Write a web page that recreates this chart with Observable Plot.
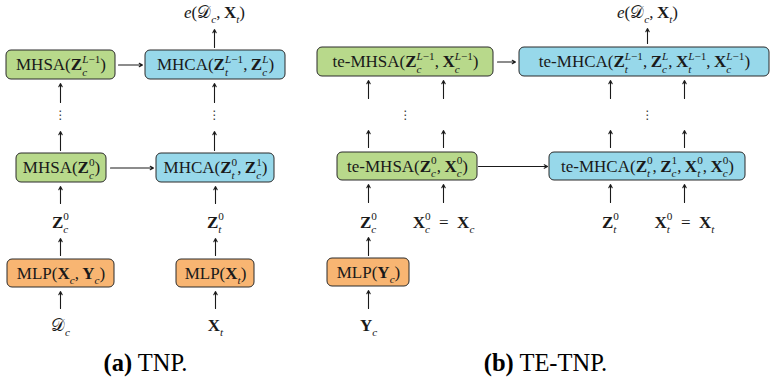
<!DOCTYPE html>
<html>
<head>
<meta charset="utf-8">
<script src="https://cdn.jsdelivr.net/npm/d3@7"></script>
<script src="https://cdn.jsdelivr.net/npm/@observablehq/plot@0.6"></script>
<style>
  html, body { margin: 0; padding: 0; background: #fff; }
</style>
</head>
<body>
<div id="figure"></div>
<script>
// Label markup: \b{..} bold, \i{..} italic, _{..} subscript,
// ^{..} superscript (a sub/sup pair is stacked).

// Processing blocks: panel (a) TNP first, then panel (b) TE-TNP.
const blockLabels = [
  "MHSA(\\b{Z}_{c}^{L−1})",
  "MHCA(\\b{Z}_{t}^{L−1},\u2009\\b{Z}_{c}^{L})",
  "MHSA(\\b{Z}_{c}^{0})",
  "MHCA(\\b{Z}_{t}^{0},\u2009\\b{Z}_{c}^{1})",
  "MLP(\\b{X}_{c},\u2009\\b{Y}_{c})",
  "MLP(\\b{X}_{t})",
  "te-MHSA(\\b{Z}_{c}^{L−1},\u2009\\b{X}_{c}^{L−1})",
  "te-MHCA(\\b{Z}_{t}^{L−1},\u2009\\b{Z}_{c}^{L},\u2009\\b{X}_{t}^{L−1},\u2009\\b{X}_{c}^{L−1})",
  "te-MHSA(\\b{Z}_{c}^{0},\u2009\\b{X}_{c}^{0})",
  "te-MHCA(\\b{Z}_{t}^{0},\u2009\\b{Z}_{c}^{1},\u2009\\b{X}_{t}^{0},\u2009\\b{X}_{c}^{0})",
  "MLP(\\b{Y}_{c})"
];
const blockKinds = ["self", "cross", "self", "cross", "embed", "embed",
                    "self", "cross", "self", "cross", "embed"];
const kindNames = ["self", "cross", "embed"];
const kindColors = ["#b8d98b", "#97d8ea", "#f8b572"];

// Inputs, intermediate tokens and outputs written beside the arrows.
const termLabels = [
  "\\i{e}(𝒟_{c},\u2009\\b{X}_{t})",
  "\\b{Z}_{c}^{0}", "\\b{Z}_{t}^{0}", "𝒟_{c}", "\\b{X}_{t}",
  "\\i{e}(𝒟_{c},\u2009\\b{X}_{t})",
  "\\b{Z}_{c}^{0}", "\\b{X}_{c}^{0}\u2002=\u2002\\b{X}_{c}",
  "\\b{Z}_{t}^{0}", "\\b{X}_{t}^{0}\u2002=\u2002\\b{X}_{t}",
  "\\b{Y}_{c}"
];
const ellipsis = ["⋮", "⋮", "⋮", "⋮"];
const captions = ["\\b{(a)} TNP.", "\\b{(b)} TE-TNP."];

// ---- layout (pixel frame of the figure) ----
const W = 770, H = 381;
const blockFrames = [            // [left, right, top, bottom]
  [6, 115, 50, 79], [145, 285, 50, 79],
  [16, 106, 153, 182], [156, 274, 153, 182],
  [7, 114, 259, 287], [176, 254, 259, 287],
  [317, 493, 47, 76], [519, 769, 47, 76],
  [337, 477, 152, 180], [549, 745, 152, 180],
  [327, 409, 258, 286]
];
const termAnchors = [
  [214, 12], [60, 222], [215, 222], [60, 325], [215, 325],
  [647, 12], [368, 222], [443, 222], [610, 222], [684, 222], [368, 325]
];
const ellipsisAnchors = [[60, 115], [214, 115], [405, 115], [647, 115]];
const captionAnchors = [[145, 363], [545, 363]];
const arrowPaths = [             // [x tail, y tail, x tip, y tip]
  [214, 47, 214, 29],
  [60, 102, 60, 83], [214, 102, 214, 83],
  [60, 150, 60, 131], [214, 150, 214, 131],
  [60, 203, 60, 186], [215, 203, 215, 186],
  [60, 255, 60, 238], [215, 255, 215, 238],
  [60, 308, 60, 291], [215, 308, 215, 291],
  [118, 64.5, 142, 64.5], [110, 167.5, 153, 167.5],
  [647, 43, 647, 28],
  [368, 98, 368, 80], [443, 98, 443, 80], [610, 98, 610, 80], [684, 98, 684, 80],
  [368, 147, 368, 130], [443, 147, 443, 130], [610, 147, 610, 130], [684, 147, 684, 130],
  [368, 202, 368, 184], [443, 202, 443, 184], [610, 202, 610, 184], [684, 202, 684, 184],
  [368, 255, 368, 237], [368, 308, 368, 290],
  [497, 61.5, 515, 61.5], [478, 166, 547, 166]
];

const blocks = blockLabels.map((label, i) => ({label, kind: blockKinds[i], f: blockFrames[i]}));
const terms = termLabels.map((label, i) => ({label, p: termAnchors[i]}));
const dots = ellipsis.map((label, i) => ({label, p: ellipsisAnchors[i]}));
const caps = captions.map((label, i) => ({label, p: captionAnchors[i]}));
const arrows = arrowPaths.map(a => ({a}));

const SERIF = "'Liberation Serif', serif";
const BODY = 17, CAPTION = 24.5;

const plot = Plot.plot({
  width: W, height: H, margin: 0,
  style: {background: "#fff"},
  x: {domain: [0, W], range: [0, W], axis: null},
  y: {domain: [0, H], range: [0, H], axis: null},
  color: {domain: kindNames, range: kindColors},
  marks: [
    Plot.arrow(arrows, {
      x1: d => d.a[0], y1: d => d.a[1], x2: d => d.a[2], y2: d => d.a[3],
      stroke: "#1a1a1a", strokeWidth: 1.1, headLength: 5, headAngle: 55
    }),
    Plot.rect(blocks, {
      x1: d => d.f[0], x2: d => d.f[1], y1: d => d.f[2], y2: d => d.f[3],
      fill: "kind", stroke: "#2a2a2a", strokeWidth: 1, rx: 5
    }),
    Plot.text(blocks, {
      x: d => (d.f[0] + d.f[1]) / 2, y: d => (d.f[2] + d.f[3]) / 2,
      text: "label", fontFamily: SERIF, fontSize: BODY, fill: "#1a1a1a"
    }),
    Plot.text(terms, {
      x: d => d.p[0], y: d => d.p[1], text: "label",
      fontFamily: SERIF, fontSize: BODY, fill: "#1a1a1a"
    }),
    Plot.text(dots, {
      x: d => d.p[0], y: d => d.p[1], text: "label",
      fontFamily: "DejaVu Sans", fontSize: 12, fill: "#333"
    }),
    Plot.text(caps, {
      x: d => d.p[0], y: d => d.p[1], text: "label",
      fontFamily: SERIF, fontSize: CAPTION, fill: "#000"
    })
  ]
});
document.getElementById("figure").append(plot);

// ---- rich text: turn the markup of each label into tspans ----
function parse(markup) {
  const re = /\\b\{([^}]*)\}|\\i\{([^}]*)\}|_\{([^}]*)\}|\^\{([^}]*)\}|([^\\_^]+)/gu;
  const out = [];
  for (const m of markup.matchAll(re)) {
    if (m[1] != null) out.push({kind: "bold", s: m[1]});
    else if (m[2] != null) out.push({kind: "ital", s: m[2]});
    else if (m[3] != null) out.push({kind: "sub", s: m[3]});
    else if (m[4] != null) out.push({kind: "sup", s: m[4]});
    else out.push({kind: "roman", s: m[5]});
  }
  return out;
}

function typeset(node) {
  const markup = node.textContent;
  const size = parseFloat(getComputedStyle(node).fontSize);
  const text = d3.select(node);
  text.text(null);
  const small = size * 0.66;
  const SUB = 0.3 * size, SUP = -0.44 * size;
  let base = 0, carryDx = 0, prev = null;
  for (const tok of parse(markup)) {
    if (tok.kind === "sub" || tok.kind === "sup") {
      const target = tok.kind === "sub" ? SUB : SUP;
      const stacked = prev && (prev.kind === "sub" || prev.kind === "sup") && prev.kind !== tok.kind;
      const runs = tok.s.match(/[A-Za-z]+|[^A-Za-z]+/g);
      let width = 0, first = true;
      for (const r of runs) {
        const t = text.append("tspan").text(r).attr("font-size", small);
        if (/[A-Za-z]/.test(r)) t.attr("font-style", "italic");
        if (first) {
          if (target - base) t.attr("dy", target - base);
          const dx = stacked ? -prev.width : carryDx;
          if (dx) t.attr("dx", dx);
          first = false;
        }
        width += t.node().getComputedTextLength();
      }
      base = target;
      carryDx = stacked ? Math.max(0, prev.width - width) : 0;
      prev = stacked ? {kind: "pair", width: 0} : {kind: tok.kind, width};
    } else {
      const t = text.append("tspan").text(tok.s);
      if (tok.kind === "bold") t.attr("font-weight", "bold");
      if (tok.kind === "ital") t.attr("font-style", "italic");
      if (base) t.attr("dy", -base);
      if (carryDx) t.attr("dx", carryDx);
      base = 0; carryDx = 0;
      prev = {kind: tok.kind, width: 0};
    }
  }
}

plot.querySelectorAll("text").forEach(node => {
  if (/[\\_^]/.test(node.textContent)) typeset(node);
});
</script>
</body>
</html>
